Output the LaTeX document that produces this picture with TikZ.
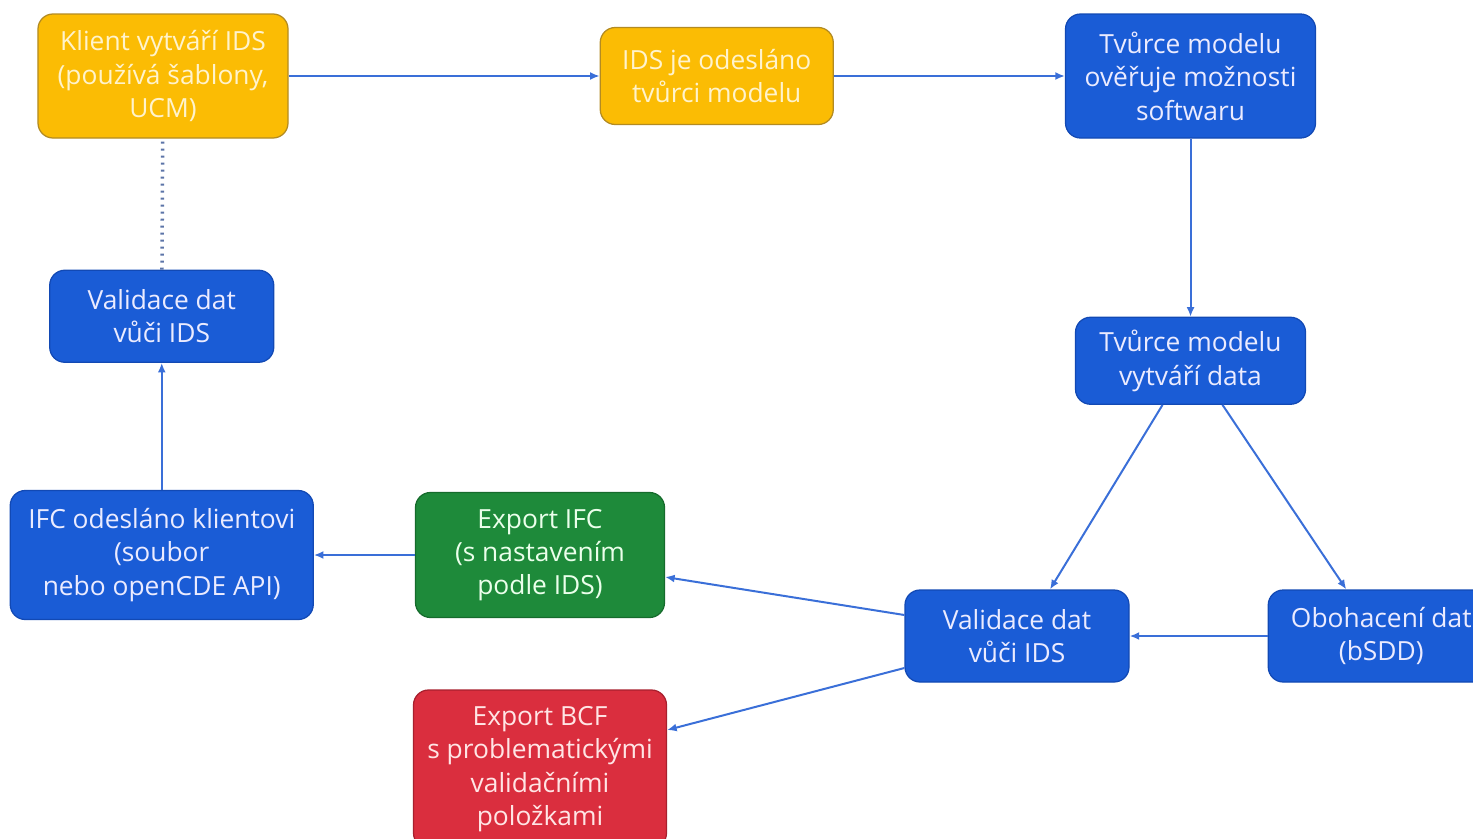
\documentclass[tikz,border=0pt]{standalone}
\usepackage{fontspec}
\setmainfont{Open Sans}
\usepackage{tikz}
\usepackage{xcolor}
\usetikzlibrary{arrows.meta,positioning,calc}
\definecolor{idsyellow}{HTML}{FBBC04}
\definecolor{idsyellowline}{HTML}{B38B22}
\definecolor{idsyellowtext}{HTML}{FFF3CC}
\definecolor{modelblue}{HTML}{1A5CD6}
\definecolor{modelblueline}{HTML}{1249B4}
\definecolor{exportgreen}{HTML}{1E8A3A}
\definecolor{exportgreenline}{HTML}{166B2C}
\definecolor{bcfred}{HTML}{DA2E3E}
\definecolor{bcfredline}{HTML}{A8202E}
\definecolor{linkblue}{HTML}{3A6FD8}
\definecolor{dotgray}{HTML}{5C74A8}
\tikzset{
  basebox/.style={
    rectangle,
    rounded corners=3mm,
    line width=0.25mm,
    align=center,
    inner sep=0pt,
    minimum height=18.4mm,
    minimum width=44.8mm,
    font=\fontsize{15}{19}\selectfont
  },
  clientbox/.style={basebox, fill=idsyellow, draw=idsyellowline, text=idsyellowtext},
  modelbox/.style={basebox, fill=modelblue, draw=modelblueline, text=white!92!blue},
  ifcbox/.style={basebox, fill=exportgreen, draw=exportgreenline, text=white!92!green},
  bcfbox/.style={basebox, fill=bcfred, draw=bcfredline, text=white!90!red},
  link/.style={-{Latex[length=1.9mm,width=1.6mm]}, line width=0.4mm, draw=linkblue},
  dotlink/.style={line width=0.7mm, dash pattern=on 0.4mm off 1mm, draw=dotgray}
}
\begin{document}
\begin{tikzpicture}[x=0.2mm, y=-0.2mm]
  \useasboundingbox (0,0) rectangle (1473,838);
  \clip (0,0) rectangle (1473,838);

  \node[clientbox, minimum width=50mm, minimum height=24.8mm] (client) at (163,76) {Klient vytváří IDS\\(používá šablony,\\UCM)};
  \node[clientbox, minimum width=46.6mm, minimum height=19.4mm, right=62.2mm of client] (sent) {IDS je odesláno\\tvůrci modelu};
  \node[modelbox, minimum width=50mm, minimum height=24.8mm, right=46.2mm of sent] (check) {Tvůrce modelu\\ověřuje možnosti\\softwaru};
  \node[modelbox, minimum width=46mm, minimum height=17.4mm, below=35.6mm of check] (create) {Tvůrce modelu\\vytváří data};
  \node[modelbox] (validright) at (1017,636) {Validace dat\\vůči IDS};
  \node[modelbox, minimum width=45.2mm, right=27.6mm of validright] (enrich) {Obohacení dat\\(bSDD)};
  \node[ifcbox, minimum width=49.8mm, minimum height=25mm] (ifcexport) at (540,555) {Export IFC\\(s nastavením\\podle IDS)};
  \node[modelbox, minimum width=60.6mm, minimum height=25.8mm, left=20.2mm of ifcexport] (delivery) {IFC odesláno klientovi\\(soubor\\nebo openCDE API)};
  \node[modelbox, above=25.4mm of delivery] (validleft) {Validace dat\\vůči IDS};
  \node[bcfbox, minimum width=50.6mm, minimum height=31.6mm] (bcfexport) at (540,769) {Export BCF\\s problematickými\\validačními\\položkami};

  \draw[link] (client) -- (sent);
  \draw[link] (sent) -- (check);
  \draw[link] (check) -- (create);
  \draw[link] ($(create.south)+(-28,0)$) -- ($(validright.north)+(33,0)$);
  \draw[link] ($(create.south)+(32,0)$) -- ($(enrich.north)+(-35,0)$);
  \draw[link] (enrich) -- (validright);
  \draw[link] ($(validright.west)+(0,-21)$) -- ($(ifcexport.east)+(0,22)$);
  \draw[link] ($(validright.west)+(0,32)$) -- ($(bcfexport.east)+(0,-39)$);
  \draw[link] (ifcexport) -- (delivery);
  \draw[link] (delivery) -- (validleft);
  \draw[dotlink] (validleft) -- (client);
\end{tikzpicture}
\end{document}
